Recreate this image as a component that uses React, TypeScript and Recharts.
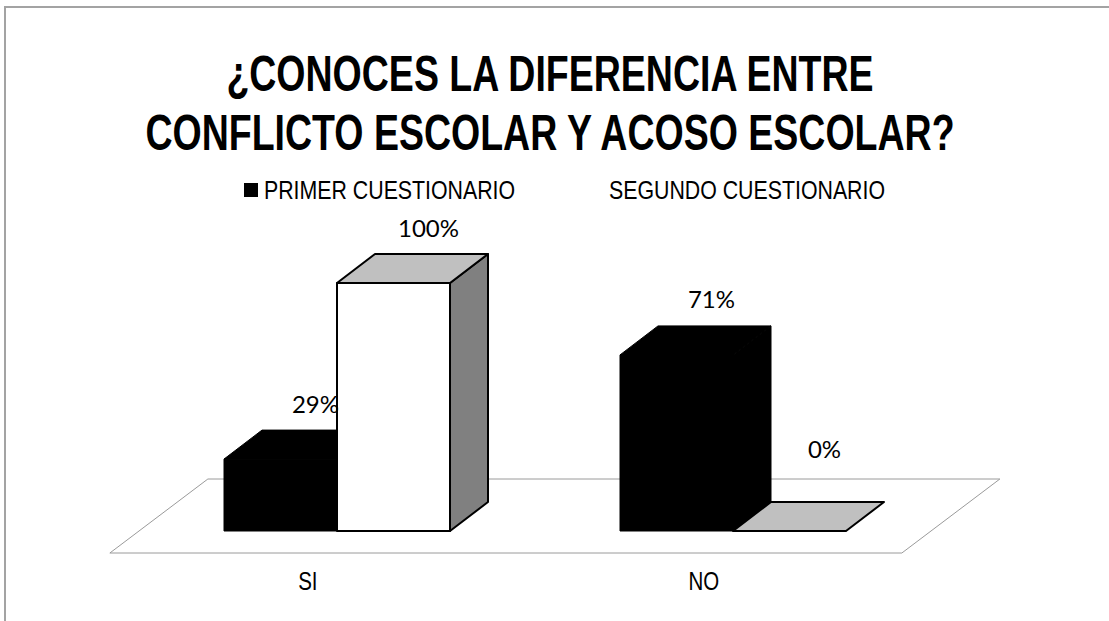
import React from 'react';
import { Bar, BarChart, Customized, LabelList, Legend, XAxis, YAxis } from 'recharts';

const categories = ['SI', 'NO'];
const primerValues = [29, 71];
const segundoValues = [100, 0];
const seriesNames = ['PRIMER CUESTIONARIO', 'SEGUNDO CUESTIONARIO'];

const data = categories.map((cat, i) => ({
  cat,
  primer: primerValues[i],
  segundo: segundoValues[i],
}));

// no narrow font installed, so squeeze Liberation Sans instead
const SANS = '"Liberation Sans", Arial, sans-serif';
const SQUEEZE = 0.82;
const TITLE_SQUEEZE = 0.75;
const LABEL_FONT = 'Lato, "Open Sans", sans-serif';

// chart frame
const W = 1109;
const H = 621;
const M = { top: 283, right: 178, bottom: 0, left: 139 };
const AXIS_H = 90;
const BASE = H - M.bottom - AXIS_H;

// 3d depth of the bars and the floor
const DX = 38;
const DY = 29;
const SLOPE = 98 / 74;
const FLOOR_FRONT = 22;
const FLOOR_BACK = 52;

const Prism = (props: any) => {
  const { x, y, width, height, front, top, side, stroke, strokeWidth } = props;
  const r = x + width;
  const b = y + height;
  return (
    <g stroke={stroke} strokeWidth={strokeWidth} strokeLinejoin="round">
      {height > 0 && <rect x={x} y={y} width={width} height={height} fill={front} />}
      {height > 0 && (
        <polygon points={`${r},${y} ${r + DX},${y - DY} ${r + DX},${b - DY} ${r},${b}`} fill={side} />
      )}
      <polygon points={`${x},${y} ${x + DX},${y - DY} ${r + DX},${y - DY} ${r},${y}`} fill={top} />
    </g>
  );
};

const Floor = () => {
  const l = M.left;
  const r = W - M.right;
  const fy = BASE + FLOOR_FRONT;
  const by = BASE - FLOOR_BACK;
  const fdx = FLOOR_FRONT * SLOPE;
  const bdx = FLOOR_BACK * SLOPE;
  return (
    <polygon
      points={`${l - fdx},${fy} ${r - fdx},${fy} ${r + bdx},${by} ${l + bdx},${by}`}
      fill="#fff"
      stroke="#9a9a9a"
      strokeWidth={1}
    />
  );
};

const CatTick = (props: any) => {
  const { x, payload } = props;
  return (
    <text
      transform={`translate(${x - FLOOR_FRONT * SLOPE},${BASE + 50}) scale(${SQUEEZE},1)`}
      textAnchor="middle"
      dominantBaseline="central"
      fontFamily={SANS}
      fontSize={25}
      fill="#000"
    >
      {payload.value}
    </text>
  );
};

const ValueLabel = (props: any) => {
  const { x, y, width, value } = props;
  const cx = x + width / 2 + DX - 3;
  const cy = Math.min(y - DY - 27, BASE - DY - 54);
  return (
    <text
      x={cx}
      y={cy}
      textAnchor="middle"
      dominantBaseline="central"
      fontFamily={LABEL_FONT}
      fontSize={24}
      fill="#000"
    >
      {`${value}%`}
    </text>
  );
};

const legendOffsets = [0, 345];

const LegendContent = (props: any) => {
  const { payload } = props;
  return (
    <div style={{ position: 'relative', height: 30, fontFamily: SANS, fontSize: 26, color: '#000' }}>
      {(payload || []).map((item: any, i: number) => (
        <div key={item.value} style={{ position: 'absolute', left: legendOffsets[i], top: 0, height: 30 }}>
          <span
            style={{ position: 'absolute', left: 0, top: 8, width: 14, height: 14, background: item.color }}
          />
          <span
            style={{
              position: 'absolute',
              left: 20,
              top: 0,
              lineHeight: '30px',
              whiteSpace: 'nowrap',
              transform: `scaleX(${SQUEEZE})`,
              transformOrigin: 'left center',
            }}
          >
            {item.value}
          </span>
        </div>
      ))}
    </div>
  );
};

const titleLine = {
  transform: `scaleX(${TITLE_SQUEEZE})`,
  transformOrigin: 'center',
  whiteSpace: 'nowrap' as const,
};

export default function App() {
  return (
    <div style={{ position: 'absolute', left: 0, top: 0, width: W, height: H, background: '#fff', overflow: 'hidden' }}>
      <div
        style={{
          position: 'absolute',
          left: 4,
          top: 6,
          width: 1200,
          height: 700,
          border: '2px solid #a3a3a3',
        }}
      />
      <div
        style={{
          position: 'absolute',
          left: -250,
          top: 45,
          width: 1600,
          textAlign: 'center',
          fontFamily: SANS,
          fontWeight: 'bold',
          fontSize: 50,
          lineHeight: '59px',
          color: '#000',
        }}
      >
        <div style={titleLine}>¿CONOCES LA DIFERENCIA ENTRE</div>
        <div style={titleLine}>CONFLICTO ESCOLAR Y ACOSO ESCOLAR?</div>
      </div>
      <BarChart
        width={W}
        height={H}
        data={data}
        margin={M}
        barGap={0}
        barSize={113}
        style={{ position: 'absolute', left: 0, top: 0 }}
      >
        <Customized component={<Floor />} />
        <XAxis dataKey="cat" axisLine={false} tickLine={false} height={AXIS_H} interval={0} tick={<CatTick />} />
        <YAxis hide domain={[0, 100]} />
        <Legend
          layout="horizontal"
          align="center"
          verticalAlign="middle"
          content={<LegendContent />}
          wrapperStyle={{ left: 244, top: 175, width: 800, height: 30 }}
        />
        <Bar
          dataKey="primer"
          name={seriesNames[0]}
          fill="#000"
          isAnimationActive={false}
          shape={(p: any) => <Prism {...p} front="#000" top="#000" side="#000" stroke="#000" strokeWidth={1} />}
        >
          <LabelList dataKey="primer" content={<ValueLabel />} />
        </Bar>
        <Bar
          dataKey="segundo"
          name={seriesNames[1]}
          fill="#fff"
          isAnimationActive={false}
          shape={(p: any) => <Prism {...p} front="#fff" top="#c0c0c0" side="#808080" stroke="#000" strokeWidth={2} />}
        >
          <LabelList dataKey="segundo" content={<ValueLabel />} />
        </Bar>
      </BarChart>
    </div>
  );
}
